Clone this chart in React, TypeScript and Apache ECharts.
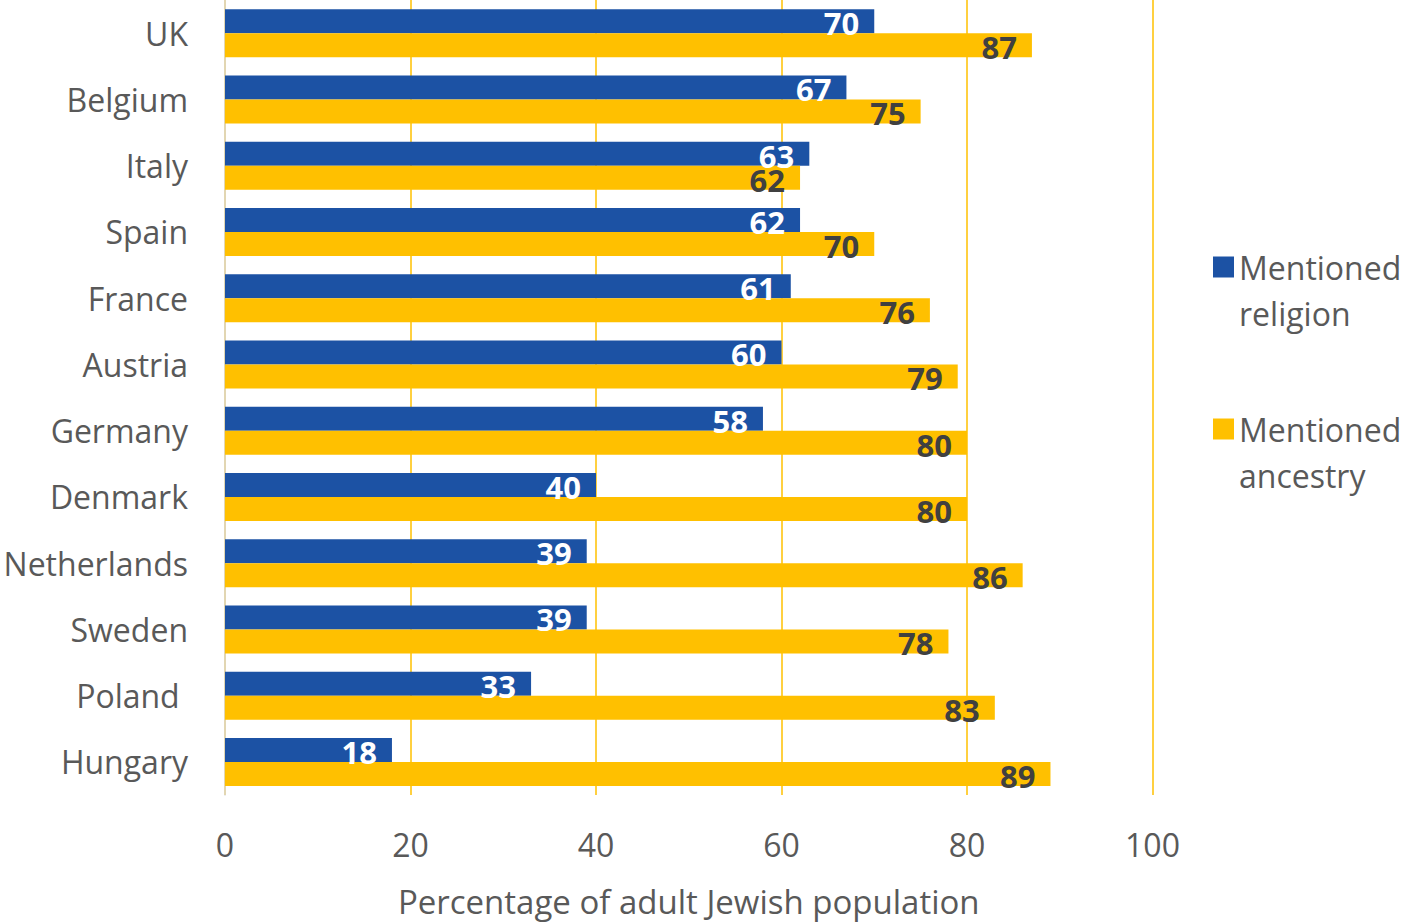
import React, { useEffect, useRef } from "react";
import * as echarts from "echarts";

const categories = [
  "UK",
  "Belgium",
  "Italy",
  "Spain",
  "France",
  "Austria",
  "Germany",
  "Denmark",
  "Netherlands",
  "Sweden",
  "Poland ",
  "Hungary",
];
const religion = [70, 67, 63, 62, 61, 60, 58, 40, 39, 39, 33, 18];
const ancestry = [87, 75, 62, 70, 76, 79, 80, 80, 86, 78, 83, 89];
const xTicks = [0, 20, 40, 60, 80, 100];
const seriesNames = ["Mentioned\nreligion", "Mentioned\nancestry"];
const axisTitle = "Percentage of adult Jewish population";

const FONT = "'Open Sans', 'Noto Sans', sans-serif";
const BLUE = "#1C52A4";
const YELLOW = "#FFC000";
const GRAY = "#595959";

export default function App() {
  const ref = useRef<HTMLDivElement>(null);
  useEffect(() => {
    if (!ref.current) return;
    const chart = echarts.init(ref.current, null, { renderer: "svg" });
    chart.setOption({
      animation: false,
      textStyle: { fontFamily: FONT },
      grid: { left: 225, top: 0, width: 927.5, height: 796, containLabel: false },
      legend: {
        orient: "vertical",
        left: 1213,
        top: 198,
        padding: 0,
        itemWidth: 21,
        itemHeight: 21,
        itemGap: 24,
        icon: "rect",
        data: seriesNames,
        formatter: (name: string) => " \n" + name,
        textStyle: {
          fontFamily: FONT,
          fontSize: 32,
          color: GRAY,
          lineHeight: 46,
        },
      },
      xAxis: {
        type: "value",
        min: xTicks[0],
        max: xTicks[xTicks.length - 1],
        interval: 20,
        axisLine: { show: false },
        axisTick: { show: false },
        axisLabel: { fontSize: 32, color: GRAY, fontFamily: FONT, margin: 33 },
        splitLine: { show: true, lineStyle: { color: YELLOW, width: 1.5 } },
        name: axisTitle,
        nameLocation: "middle",
        nameGap: 90,
        nameTextStyle: { fontSize: 33, color: GRAY, fontFamily: FONT },
      },
      yAxis: {
        type: "category",
        inverse: true,
        data: categories,
        axisLine: { show: true, lineStyle: { color: "#D9D9D9", width: 1.5 } },
        axisTick: { show: false },
        axisLabel: { fontSize: 32, color: GRAY, fontFamily: FONT, margin: 37 },
        splitLine: { show: false },
      },
      series: [
        {
          name: seriesNames[0],
          type: "bar",
          data: religion,
          barWidth: 24,
          barGap: "0%",
          itemStyle: { color: BLUE },
          label: {
            show: true,
            position: "insideRight",
            distance: 15,
            offset: [0, 2],
            color: "#FFFFFF",
            fontWeight: "bold",
            fontSize: 31,
            fontFamily: FONT,
          },
        },
        {
          name: seriesNames[1],
          type: "bar",
          data: ancestry,
          barWidth: 24,
          barGap: "0%",
          itemStyle: { color: YELLOW },
          label: {
            show: true,
            position: "insideRight",
            distance: 15,
            offset: [0, 2],
            color: "#404040",
            fontWeight: "bold",
            fontSize: 31,
            fontFamily: FONT,
          },
        },
      ],
    });
    return () => chart.dispose();
  }, []);
  return (
    <div
      ref={ref}
      style={{ position: "fixed", left: 0, top: 0, width: 1416, height: 923, background: "#fff" }}
    />
  );
}
